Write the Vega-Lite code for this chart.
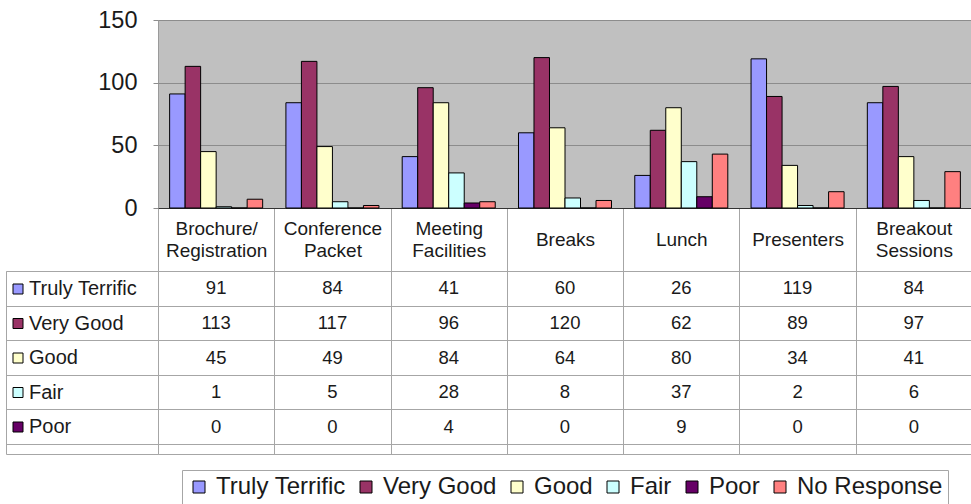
{
  "$schema": "https://vega.github.io/schema/vega-lite/v6.json",
  "padding": {"left": 5, "top": 7, "right": 0, "bottom": 0},
  "background": "white",
  "config": {"font": "Liberation Sans", "view": {"stroke": null}},
  "datasets": {
    "d": [
      {"cat": "Brochure/ Registration", "series": "Truly Terrific", "value": 91},
      {"cat": "Brochure/ Registration", "series": "Very Good", "value": 113},
      {"cat": "Brochure/ Registration", "series": "Good", "value": 45},
      {"cat": "Brochure/ Registration", "series": "Fair", "value": 1},
      {"cat": "Brochure/ Registration", "series": "Poor", "value": 0},
      {"cat": "Brochure/ Registration", "series": "No Response", "value": 7},
      {"cat": "Conference Packet", "series": "Truly Terrific", "value": 84},
      {"cat": "Conference Packet", "series": "Very Good", "value": 117},
      {"cat": "Conference Packet", "series": "Good", "value": 49},
      {"cat": "Conference Packet", "series": "Fair", "value": 5},
      {"cat": "Conference Packet", "series": "Poor", "value": 0},
      {"cat": "Conference Packet", "series": "No Response", "value": 2},
      {"cat": "Meeting Facilities", "series": "Truly Terrific", "value": 41},
      {"cat": "Meeting Facilities", "series": "Very Good", "value": 96},
      {"cat": "Meeting Facilities", "series": "Good", "value": 84},
      {"cat": "Meeting Facilities", "series": "Fair", "value": 28},
      {"cat": "Meeting Facilities", "series": "Poor", "value": 4},
      {"cat": "Meeting Facilities", "series": "No Response", "value": 5},
      {"cat": "Breaks", "series": "Truly Terrific", "value": 60},
      {"cat": "Breaks", "series": "Very Good", "value": 120},
      {"cat": "Breaks", "series": "Good", "value": 64},
      {"cat": "Breaks", "series": "Fair", "value": 8},
      {"cat": "Breaks", "series": "Poor", "value": 0},
      {"cat": "Breaks", "series": "No Response", "value": 6},
      {"cat": "Lunch", "series": "Truly Terrific", "value": 26},
      {"cat": "Lunch", "series": "Very Good", "value": 62},
      {"cat": "Lunch", "series": "Good", "value": 80},
      {"cat": "Lunch", "series": "Fair", "value": 37},
      {"cat": "Lunch", "series": "Poor", "value": 9},
      {"cat": "Lunch", "series": "No Response", "value": 43},
      {"cat": "Presenters", "series": "Truly Terrific", "value": 119},
      {"cat": "Presenters", "series": "Very Good", "value": 89},
      {"cat": "Presenters", "series": "Good", "value": 34},
      {"cat": "Presenters", "series": "Fair", "value": 2},
      {"cat": "Presenters", "series": "Poor", "value": 0},
      {"cat": "Presenters", "series": "No Response", "value": 13},
      {"cat": "Breakout Sessions", "series": "Truly Terrific", "value": 84},
      {"cat": "Breakout Sessions", "series": "Very Good", "value": 97},
      {"cat": "Breakout Sessions", "series": "Good", "value": 41},
      {"cat": "Breakout Sessions", "series": "Fair", "value": 6},
      {"cat": "Breakout Sessions", "series": "Poor", "value": 0},
      {"cat": "Breakout Sessions", "series": "No Response", "value": 29}
    ]
  },
  "columns": 2,
  "bounds": "flush",
  "spacing": {"row": 63, "column": 0},
  "resolve": {"legend": {"color": "independent"}},
  "concat": [
    {
      "width": 152,
      "height": 188,
      "data": {"values": []},
      "mark": {"type": "point", "opacity": 0},
      "encoding": {}
    },
    {
      "width": 814,
      "height": 188,
      "data": {"name": "d"},
      "view": {"fill": "#c0c0c0", "stroke": "#9a9a9a"},
      "mark": {"type": "bar", "stroke": "black", "strokeWidth": 1},
      "encoding": {
        "x": {
          "field": "cat", "type": "nominal",
          "sort": ["Brochure/ Registration", "Conference Packet", "Meeting Facilities", "Breaks", "Lunch", "Presenters", "Breakout Sessions"],
          "scale": {"paddingInner": 0, "paddingOuter": 0},
          "axis": {
            "title": null, "labelAngle": 0,
            "labelExpr": "indexof(datum.label, ' ') < 0 ? '' : split(datum.label, ' ')",
            "labelFontSize": 19, "labelColor": "#1a1a1a", "labelLineHeight": 22,
            "labelBaseline": "middle", "labelPadding": -43, "labelOverlap": false,
            "tickBand": "extent", "tickSize": 63, "tickColor": "#a6a6a6", "tickWidth": 1,
            "domainColor": "#333333", "domainWidth": 1
          }
        },
        "xOffset": {
          "field": "series",
          "sort": ["Truly Terrific", "Very Good", "Good", "Fair", "Poor", "No Response"],
          "scale": {"paddingInner": 0, "paddingOuter": 0.75}
        },
        "y": {
          "field": "value", "type": "quantitative", "stack": null,
          "scale": {"domain": [0, 150], "nice": false},
          "axis": {
            "title": null, "values": [0, 50, 100, 150], "labelFontSize": 23.5,
            "labelColor": "#1a1a1a", "tickSize": 5, "tickColor": "#8c8c8c",
            "labelPadding": 16, "gridColor": "#8c8c8c", "domain": false
          }
        },
        "color": {
          "field": "series", "type": "nominal",
          "sort": ["Truly Terrific", "Very Good", "Good", "Fair", "Poor", "No Response"],
          "scale": {
            "domain": ["Truly Terrific", "Very Good", "Good", "Fair", "Poor", "No Response"],
            "range": ["#9999ff", "#993366", "#ffffcc", "#ccffff", "#660066", "#ff8080"]
          },
          "legend": {
            "orient": "none", "legendX": 24, "legendY": 450, "direction": "horizontal",
            "columns": 6, "title": null, "symbolType": "square", "symbolSize": 144,
            "symbolStrokeColor": "black", "symbolStrokeWidth": 1, "symbolOpacity": 1,
            "labelFontSize": 24, "labelColor": "#1a1a1a", "labelOffset": 5,
            "columnPadding": 8, "padding": 5, "strokeColor": "#a6a6a6", "fillColor": "white"
          }
        }
      }
    },
    {
      "width": 152,
      "height": 183,
      "data": {"name": "d"},
      "transform": [{"filter": "datum.series !== 'No Response'"}],
      "view": {"fill": "white", "stroke": "#a6a6a6"},
      "mark": {"type": "point", "shape": "square", "filled": true, "size": 0},
      "encoding": {
        "y": {
          "field": "series", "type": "nominal",
          "sort": ["Truly Terrific", "Very Good", "Good", "Fair", "Poor"],
          "scale": {"paddingInner": 0, "paddingOuter": 0.1445, "align": 0},
          "axis": {
            "title": null, "labels": false, "ticks": false, "domain": false,
            "grid": true, "tickBand": "extent", "gridColor": "#a6a6a6"
          }
        },
        "color": {
          "field": "series", "type": "nominal",
          "scale": {
            "domain": ["Truly Terrific", "Very Good", "Good", "Fair", "Poor", "No Response"],
            "range": ["#9999ff", "#993366", "#ffffcc", "#ccffff", "#660066", "#ff8080"]
          },
          "legend": {
            "orient": "none", "legendX": 2, "legendY": 8, "direction": "vertical",
            "values": ["Truly Terrific", "Very Good", "Good", "Fair", "Poor"],
            "title": null, "symbolType": "square", "symbolSize": 100,
            "symbolStrokeColor": "black", "symbolStrokeWidth": 1, "symbolOpacity": 1,
            "labelFontSize": 20, "labelColor": "#1a1a1a", "labelOffset": 1,
            "rowPadding": 14.5, "padding": 0
          }
        }
      }
    },
    {
      "width": 814,
      "height": 183,
      "data": {"name": "d"},
      "transform": [{"filter": "datum.series !== 'No Response'"}],
      "view": {"fill": "white", "stroke": "#a6a6a6"},
      "mark": {"type": "text", "fontSize": 18.5, "color": "#1a1a1a"},
      "encoding": {
        "x": {
          "field": "cat", "type": "nominal",
          "sort": ["Brochure/ Registration", "Conference Packet", "Meeting Facilities", "Breaks", "Lunch", "Presenters", "Breakout Sessions"],
          "scale": {"paddingInner": 0, "paddingOuter": 0},
          "axis": {
            "title": null, "orient": "top", "ticks": false, "domain": false,
            "labelAngle": 0, "labelExpr": "indexof(datum.label, ' ') < 0 ? datum.label : ''",
            "labelFontSize": 19, "labelColor": "#1a1a1a", "labelBaseline": "middle",
            "labelPadding": 32, "labelOverlap": false,
            "grid": true, "tickBand": "extent", "gridColor": "#a6a6a6"
          }
        },
        "y": {
          "field": "series", "type": "nominal",
          "sort": ["Truly Terrific", "Very Good", "Good", "Fair", "Poor"],
          "scale": {"paddingInner": 0, "paddingOuter": 0.1445, "align": 0},
          "axis": {
            "title": null, "labels": false, "ticks": false, "domain": false,
            "grid": true, "tickBand": "extent", "gridColor": "#a6a6a6"
          }
        },
        "text": {"field": "value", "type": "quantitative"}
      }
    }
  ]
}
